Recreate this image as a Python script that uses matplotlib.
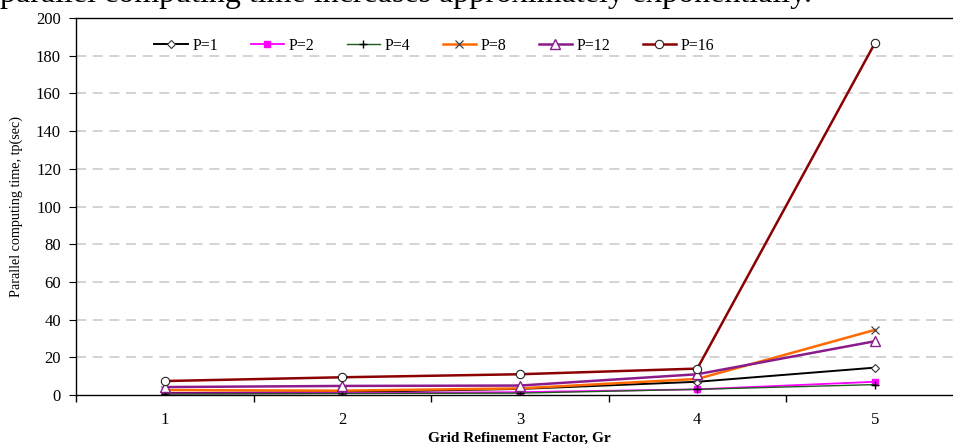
import matplotlib
matplotlib.use("Agg")
import matplotlib.pyplot as plt
from matplotlib.ticker import FixedLocator

# grid refinement factor on the x axis, parallel time (sec) per processor count
gr = [1, 2, 3, 4, 5]
p1 = [1.0, 1.5, 3.2, 7.0, 14.5]
p2 = [0.8, 1.0, 1.5, 3.0, 7.0]
p4 = [0.5, 0.8, 1.0, 3.0, 5.5]
p8 = [2.6, 2.3, 3.5, 8.5, 34.5]
p12 = [4.2, 4.8, 5.0, 11.0, 28.5]
p16 = [7.4, 9.4, 11.0, 14.0, 186.5]

plt.rcParams['font.family'] = ['Liberation Serif', 'DejaVu Serif']

fig = plt.figure(figsize=(9.54, 4.44), dpi=100)
ax = fig.add_axes([0.0799, 0.1104, 0.930, 0.849])

ax.plot(gr, p1, color='black', lw=1.4, marker='D', ms=4.5, mfc='white', mec='#333333', mew=0.8, label='P=1')
ax.plot(gr, p2, color='#ff00ff', lw=1.3, marker='s', ms=4.5, mfc='#ff00ff', mec='#ff00ff', label='P=2')
ax.plot(gr, p4, color='#1f5a1f', lw=1.0, marker='+', ms=6, mec='black', mew=1.0, label='P=4')
ax.plot(gr, p8, color='#ff6a00', lw=1.8, marker='x', ms=6, mec='#444444', mew=0.9, label='P=8')
ax.plot(gr, p12, color='#8b1a8b', lw=1.8, marker='^', ms=7, mfc='white', mec='#8b1a8b', mew=1.0, label='P=12')
ax.plot(gr, p16, color='#8b0000', lw=1.8, marker='o', ms=6, mfc='white', mec='#222222', mew=0.8, label='P=16')

ax.set_xlim(0.5, 5.5)
ax.set_ylim(0, 200)
ax.set_xticks(gr)
ax.xaxis.set_minor_locator(FixedLocator([0.5, 1.5, 2.5, 3.5, 4.5, 5.5]))
ax.tick_params(axis='x', which='major', length=0, labelsize=12, pad=12)
ax.tick_params(axis='x', which='minor', length=5, direction='out', width=1)
ax.set_yticks(range(0, 201, 20))
ax.tick_params(axis='y', length=5, direction='out', labelsize=12, pad=6)

for y in range(20, 200, 20):
    ax.axhline(y, color='#cccccc', lw=1.2, ls=(0, (6, 4)), zorder=0)

ax.spines['right'].set_visible(False)
for side in ['top', 'left', 'bottom']:
    ax.spines[side].set_linewidth(1.0)

ax.set_xlabel('Grid Refinement Factor, Gr', fontsize=11, fontweight='bold', labelpad=3)
ax.set_ylabel('Parallel computing time, tp(sec)', fontsize=10.2, labelpad=9)

ax.legend(loc='upper left', bbox_to_anchor=(0.072, 0.985), ncol=6, frameon=False,
          fontsize=11.5, handlelength=2.1, handletextpad=0.3, columnspacing=2.0)

fig.text(0.0, 0.9955, 'parallel computing time increases approximately exponentially.',
         fontsize=23, ha='left', va='baseline')

fig.savefig('out.png', dpi=100)
